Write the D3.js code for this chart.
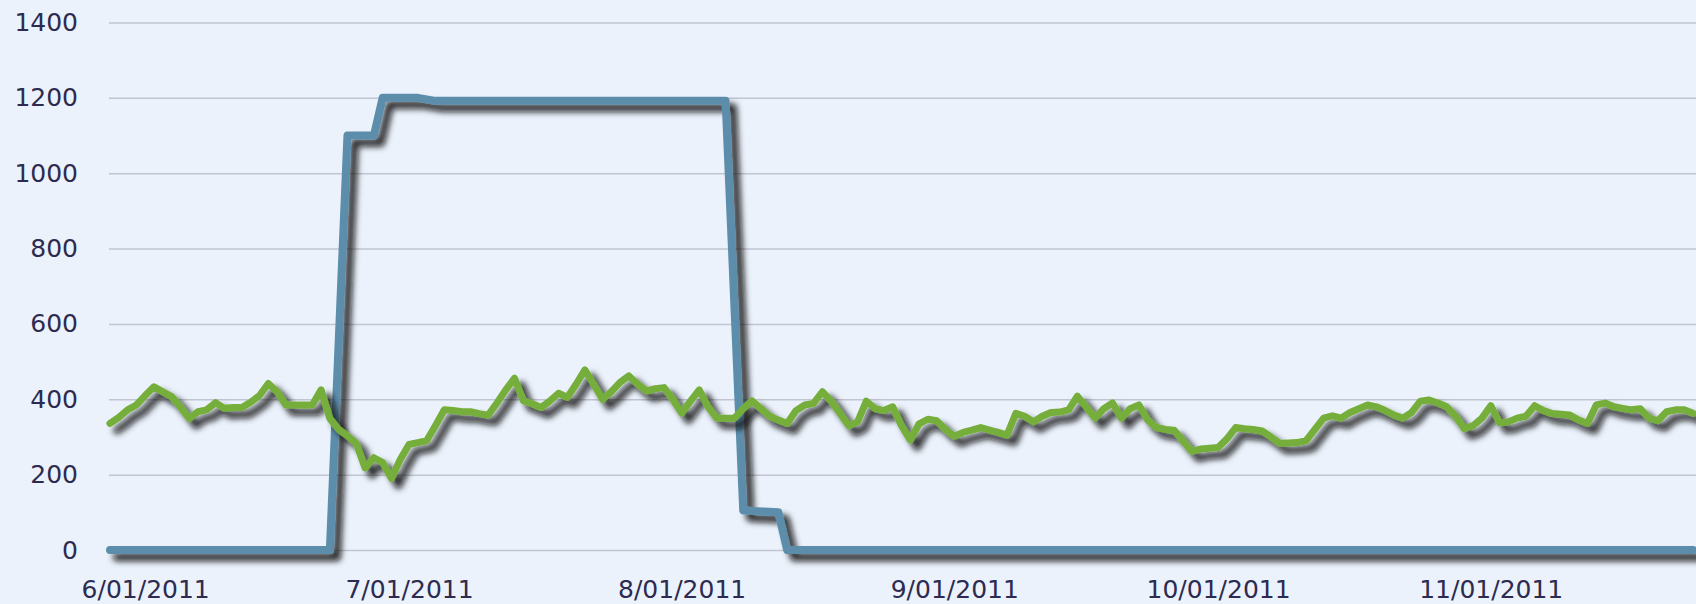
<!DOCTYPE html>
<html>
<head>
<meta charset="utf-8">
<script src="https://cdn.jsdelivr.net/npm/d3@7"></script>
<style>
  html, body { margin: 0; padding: 0; background: #ebf2fc; }
  #chart { width: 1696px; height: 604px; overflow: hidden; }
  .axis text { font-family: "DejaVu Sans", sans-serif; font-size: 25px; fill: #2d2b4f; }
</style>
</head>
<body>
<div id="chart"></div>
<script>
// y axis ticks
const yTicks = [0, 200, 400, 600, 800, 1000, 1200, 1400];

// x axis ticks
const xTickDates = ["2011-06-01", "2011-07-01", "2011-08-01", "2011-09-01", "2011-10-01", "2011-11-01"];
const xTickLabels = ["6/01/2011", "7/01/2011", "8/01/2011", "9/01/2011", "10/01/2011", "11/01/2011"];

const firstDay = "2011-05-28";
const lastDay = "2011-11-24";

// blue series: step changes only
const blueDates = ["2011-05-28", "2011-06-22", "2011-06-24", "2011-06-27", "2011-06-28", "2011-07-02",
    "2011-07-04", "2011-08-06", "2011-08-08", "2011-08-12", "2011-08-13", "2011-11-24"];
const blueValues = [0, 0, 1100, 1100, 1200, 1200, 1192, 1192, 105, 100, 0, 0];

// green series: one value per day starting on firstDay
const greenValues = [
    336, 352, 372, 385, 410, 433, 420, 407, 380, 349,
    367, 372, 391, 376, 378, 378, 392, 410, 442, 420,
    385, 385, 385, 385, 425, 349, 320, 303, 283, 218,
    245, 232, 190, 240, 280, 285, 290, 330, 372, 370,
    367, 367, 362, 358, 390, 425, 456, 396, 388, 378,
    395, 416, 405, 440, 478, 440, 400, 420, 445, 462,
    440, 422, 428, 431, 400, 363, 395, 425, 380, 350,
    350, 350, 375, 396, 375, 355, 345, 336, 370, 385,
    389, 420, 395, 363, 330, 340, 395, 375, 370, 380,
    330, 292, 335, 347, 343, 320, 302, 312, 318, 325,
    318, 312, 305, 363, 355, 340, 355, 365, 366, 372,
    408, 380, 350, 375, 390, 350, 375, 385, 345, 325,
    320, 318, 290, 262, 268, 270, 272, 295, 325, 322,
    320, 316, 300, 283, 284, 285, 290, 320, 350, 356,
    350, 365, 375, 385, 380, 370, 358, 350, 365, 395,
    398, 390, 380, 355, 322, 330, 350, 383, 338, 340,
    350, 355, 383, 370, 362, 360, 358, 345, 336, 385,
    390, 380, 376, 372, 375, 350, 343, 367, 372, 372,
    363
];

const width = 1696, height = 604;
const parseDate = d3.timeParse("%Y-%m-%d");

function drawChart() {
    const svg = d3.select('#chart')
        .append('svg')
        .attr('width', width)
        .attr('height', height);

    svg.append('rect')
        .attr('width', width)
        .attr('height', height)
        .attr('fill', '#ebf2fc');

    const defs = svg.append('defs');
    defs.append('filter')
        .attr('id', 'shadow')
        .attr('x', '-10%').attr('y', '-10%')
        .attr('width', '120%').attr('height', '130%')
        .append('feDropShadow')
        .attr('dx', 7)
        .attr('dy', 7)
        .attr('stdDeviation', 3)
        .attr('flood-color', '#111')
        .attr('flood-opacity', 0.9);

    const x = d3.scaleTime()
        .domain([parseDate(firstDay), parseDate(lastDay)])
        .range([110, 1693]);

    const y = d3.scaleLinear()
        .domain([0, 1400])
        .range([550, 22.5]);

    // gridlines + y labels
    const yAxis = svg.append('g')
        .attr('class', 'axis')
        .attr('transform', 'translate(109,0)')
        .call(d3.axisLeft(y)
            .tickValues(yTicks)
            .tickFormat(d3.format('d'))
            .tickSize(-(width - 109))
            .tickPadding(31));
    yAxis.select('.domain').remove();
    yAxis.selectAll('line')
        .attr('stroke', '#c2c5d1')
        .attr('stroke-width', 1.5);

    const xAxis = svg.append('g')
        .attr('class', 'axis')
        .attr('transform', 'translate(0,550)')
        .call(d3.axisBottom(x)
            .tickValues(xTickDates.map(parseDate))
            .tickFormat((d, i) => xTickLabels[i])
            .tickSize(0)
            .tickPadding(30));
    xAxis.select('.domain').remove();

    const blue = blueDates.map((d, i) => ({ date: parseDate(d), value: blueValues[i] }));
    const green = greenValues.map((v, i) => ({ date: d3.timeDay.offset(parseDate(firstDay), i), value: v }));

    const line = d3.line()
        .x(d => x(d.date))
        .y(d => y(d.value));

    svg.append('path')
        .datum(blue)
        .attr('d', line)
        .attr('fill', 'none')
        .attr('stroke', '#5b8eac')
        .attr('stroke-width', 8)
        .attr('stroke-linejoin', 'round')
        .attr('stroke-linecap', 'round')
        .attr('filter', 'url(#shadow)');

    svg.append('path')
        .datum(green)
        .attr('d', line)
        .attr('fill', 'none')
        .attr('stroke', '#74ae3b')
        .attr('stroke-width', 7)
        .attr('stroke-linejoin', 'round')
        .attr('stroke-linecap', 'round')
        .attr('filter', 'url(#shadow)');
}

drawChart();
</script>
</body>
</html>
